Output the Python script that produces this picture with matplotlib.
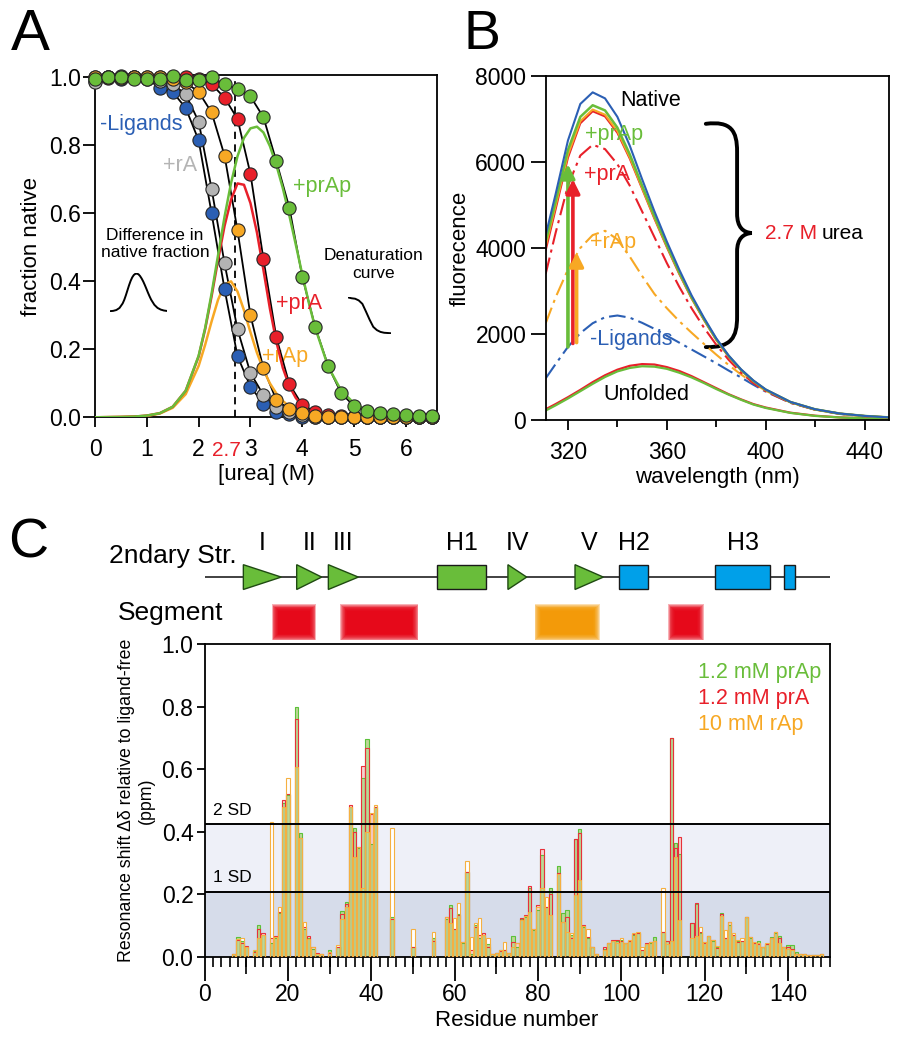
import matplotlib.pyplot as plt
from matplotlib.patches import Polygon, Rectangle, PathPatch
from matplotlib.path import Path
from matplotlib.ticker import MultipleLocator, FuncFormatter

plt.rcParams['font.family'] = ['Liberation Sans', 'DejaVu Sans']
plt.rcParams['font.size'] = 12
plt.rcParams['axes.linewidth'] = 1.3

BLUE = '#2b5fb4'
GRAY = '#b4b4b4'
ORANGE = '#f7a824'
RED = '#e8202a'
GREEN = '#69bd3a'

TICK_FS = 16.5
LAB_FS = 16
CURVE_FS = 15.5

# ---------------- panel A : urea denaturation ----------------
urea = [0.0, 0.25, 0.5, 0.75, 1.0, 1.25, 1.5, 1.75, 2.0, 2.25, 2.5, 2.75, 3.0,
        3.25, 3.5, 3.75, 4.0, 4.25, 4.5, 4.75, 5.0, 5.25, 5.5, 5.75, 6.0, 6.25, 6.5]
fn_none = [0.99, 1.0, 0.995, 1.0, 0.995, 0.97, 0.957, 0.91, 0.815, 0.60, 0.377, 0.18, 0.09,
           0.04, 0.017, 0.01, 0.002, 0, 0, 0, 0, 0, 0, 0, 0, 0, 0]
fn_ra = [0.985, 1.0, 1.005, 1.0, 0.998, 0.99, 0.98, 0.95, 0.87, 0.672, 0.453, 0.259, 0.13,
         0.066, 0.03, 0.015, 0.007, 0.002, 0, 0, 0, 0, 0, 0, 0, 0, 0]
fn_rap = [1.0, 1.0, 0.998, 1.0, 1.0, 1.0, 0.995, 0.985, 0.957, 0.897, 0.77, 0.55, 0.30,
          0.144, 0.051, 0.024, 0.012, 0.005, 0.002, 0, 0, 0, 0, 0, 0, 0, 0]
fn_pra = [1.0, 0.998, 1.0, 1.0, 1.0, 1.0, 0.998, 1.0, 0.995, 0.98, 0.94, 0.878, 0.716,
          0.466, 0.235, 0.098, 0.036, 0.017, 0.008, 0.004, 0.002, 0, 0, 0, 0, 0, 0]
fn_prap = [0.995, 1.0, 1.0, 0.995, 0.995, 0.995, 1.004, 0.992, 0.992, 1.0, 0.98, 0.966, 0.944,
           0.883, 0.753, 0.617, 0.414, 0.265, 0.151, 0.071, 0.033, 0.02, 0.014, 0.01, 0.008,
           0.005, 0.004]

# difference in native fraction (ligand - no ligand)
urea_diff = [0.0, 0.5, 0.75, 1.0, 1.25, 1.5, 1.75, 2.0, 2.125, 2.25, 2.375, 2.5, 2.625, 2.75,
             2.875, 3.0, 3.125, 3.25, 3.375, 3.5, 3.625, 3.75, 3.875, 4.0, 4.125, 4.25, 4.5,
             4.75, 5.0, 5.25, 5.5, 5.75, 6.0, 6.25, 6.5]
diff_prap = [0, 0.001, 0.002, 0.005, 0.012, 0.031, 0.078, 0.181, 0.262, 0.364, 0.477, 0.590,
             0.689, 0.768, 0.822, 0.850, 0.855, 0.838, 0.798, 0.742, 0.674, 0.594, 0.508,
             0.420, 0.338, 0.263, 0.149, 0.079, 0.041, 0.020, 0.010, 0.005, 0.0025, 0.001, 0.0006]
diff_pra = [0, 0.001, 0.002, 0.005, 0.012, 0.031, 0.078, 0.179, 0.259, 0.356, 0.463, 0.563,
            0.640, 0.688, 0.684, 0.630, 0.544, 0.434, 0.320, 0.222, 0.145, 0.092, 0.057,
            0.034, 0.021, 0.012, 0.005, 0.002, 0.001, 0, 0, 0, 0, 0, 0]
diff_rap = [0, 0.001, 0.002, 0.004, 0.011, 0.028, 0.068, 0.151, 0.213, 0.282, 0.346, 0.390,
            0.400, 0.370, 0.315, 0.250, 0.190, 0.140, 0.100, 0.070, 0.048, 0.032, 0.020,
            0.013, 0.008, 0.005, 0.002, 0.001, 0, 0, 0, 0, 0, 0, 0]
urea_mark = 2.7

# ---------------- panel B : fluorescence spectra ----------------
wl = [311, 315, 320, 325, 330, 335, 340, 345, 350, 355, 360, 365, 370, 375, 380, 385,
      390, 395, 400, 410, 420, 430, 440, 450]
nat_blue = [4300, 5250, 6500, 7350, 7620, 7480, 7050, 6380, 5600, 4850, 4150, 3500, 2900,
            2380, 1900, 1500, 1180, 920, 710, 420, 250, 150, 95, 60]
nat_green = [4150, 5080, 6280, 7050, 7320, 7200, 6800, 6180, 5450, 4740, 4070, 3440, 2860,
             2350, 1880, 1490, 1170, 910, 705, 418, 248, 149, 94, 60]
nat_orange = [4050, 4980, 6170, 6950, 7220, 7100, 6720, 6110, 5400, 4700, 4040, 3420, 2840,
              2340, 1870, 1480, 1165, 905, 700, 415, 246, 148, 93, 60]
nat_red = [3950, 4900, 6100, 6900, 7180, 7060, 6680, 6080, 5380, 4680, 4020, 3400, 2830,
           2330, 1865, 1475, 1160, 900, 700, 415, 246, 148, 93, 60]
urea_pra = [3400, 4350, 5450, 6150, 6400, 6300, 5950, 5450, 4850, 4250, 3650, 3100, 2600,
            2150, 1750, 1400, 1100, 860, 670, 400, 240, 145, 90, 60]
urea_rap = [2250, 2850, 3500, 4000, 4300, 4400, 4200, 3800, 3350, 2930, 2600, 2300, 2030,
            1770, 1520, 1280, 1060, 860, 680, 410, 240, 145, 88, 55]
urea_none = [970, 1300, 1700, 2020, 2250, 2390, 2430, 2380, 2260, 2120, 1960, 1800, 1640,
             1480, 1320, 1150, 990, 820, 660, 400, 240, 140, 85, 55]
unf_red = [250, 370, 530, 700, 880, 1040, 1170, 1260, 1300, 1290, 1230, 1140, 1020, 880,
           740, 600, 480, 370, 290, 170, 100, 60, 40, 30]
unf_green = [220, 340, 500, 670, 840, 1000, 1130, 1210, 1250, 1240, 1190, 1100, 990, 860,
             720, 590, 470, 360, 280, 165, 95, 58, 38, 28]
arrow_nm = [320, 322, 323.5]
arrow_lo = [1700, 1780, 1800]
arrow_hi = [5950, 5600, 3900]
arrow_col = [GREEN, RED, ORANGE]

# ---------------- panel C : NMR chemical shift perturbation ----------------
residue = [7, 8, 9, 10, 12, 13, 14, 16, 17, 18, 19, 20, 22, 23, 24, 25, 26, 27, 28, 30,
           32, 33, 34, 35, 36, 37, 38, 39, 40, 41, 45, 50, 55, 58, 59, 60, 61, 62, 63, 64,
           65, 66, 67, 68, 69, 70, 71, 72, 73, 74, 75, 76, 77, 78, 79, 80, 81, 82, 83, 85,
           86, 87, 88, 89, 90, 91, 92, 93, 94, 96, 97, 98, 99, 100, 101, 102, 103, 104, 105,
           106, 107, 108, 110, 111, 112, 113, 114, 117, 118, 119, 120, 121, 122, 123, 124,
           125, 126, 127, 128, 129, 130, 131, 132, 133, 134, 135, 136, 137, 138, 139, 140,
           141, 142, 143, 144, 145, 146, 147, 148]
shift_prap = [.010, .064, .050, .030, .018, .100, .070, .045, .060, .139, .490, .517, .800,
              .397, .090, .060, .025, .010, .008, .023, .030, .145, .176, .478, .410, .347,
              .570, .695, .360, .480, .128, .032, .060, .120, .165, .090, .135, .045, .272,
              .010, .100, .060, .070, .040, .010, .012, .022, .020, .013, .066, .030, .120,
              .128, .220, .085, .150, .325, .160, .219, .290, .140, .149, .070, .375, .407,
              .095, .060, .030, .010, .025, .045, .050, .050, .055, .043, .050, .070, .075,
              .020, .040, .045, .064, .080, .050, .700, .365, .330, .109, .170, .075, .048,
              .066, .050, .030, .139, .060, .100, .070, .050, .050, .128, .060, .045, .050,
              .030, .040, .064, .075, .066, .032, .037, .037, .015, .010, .008, .007, .006,
              .006, .008]
shift_pra = [.008, .055, .045, .034, .015, .090, .075, .060, .066, .144, .500, .520, .760,
             .380, .095, .066, .030, .012, .008, .012, .032, .135, .170, .485, .400, .352,
             .610, .667, .455, .480, .120, .032, .050, .128, .155, .090, .133, .048, .272,
             .020, .095, .070, .077, .030, .010, .012, .018, .022, .013, .048, .045, .123,
             .133, .226, .090, .165, .343, .160, .200, .267, .112, .128, .060, .375, .395,
             .101, .064, .030, .010, .030, .045, .055, .053, .050, .043, .050, .073, .075,
             .020, .045, .046, .050, .080, .050, .700, .347, .384, .107, .173, .080, .045,
             .066, .055, .028, .135, .060, .112, .070, .048, .050, .128, .062, .045, .040,
             .030, .040, .060, .080, .060, .030, .030, .025, .010, .010, .008, .007, .006,
             .006, .008]
shift_rap = [.010, .058, .060, .030, .023, .060, .070, .432, .063, .158, .480, .570, .608,
             .378, .110, .058, .030, .010, .008, .015, .037, .120, .160, .480, .320, .350,
             .220, .400, .459, .485, .410, .090, .080, .126, .107, .123, .173, .048, .306,
             .064, .109, .123, .070, .059, .010, .012, .020, .048, .013, .030, .043, .118,
             .130, .144, .090, .160, .219, .190, .133, .265, .110, .080, .075, .197, .245,
             .098, .090, .032, .010, .022, .045, .050, .045, .059, .043, .053, .075, .080,
             .032, .040, .048, .050, .220, .040, .050, .320, .117, .060, .065, .096, .048,
             .066, .053, .033, .130, .085, .110, .075, .053, .060, .128, .064, .048, .043,
             .032, .043, .060, .080, .045, .032, .025, .020, .010, .010, .008, .007, .006,
             .006, .008]
sd1, sd2 = 0.207, 0.424

strand_names = ['I', 'II', 'III', 'IV', 'V']
strand_start = [9.3, 22.1, 29.7, 72.8, 88.9]
strand_end = [18.4, 28.1, 36.9, 77.3, 95.7]
helix_names = ['H1', 'H2', 'H3', '']
helix_start = [55.7, 99.5, 122.5, 139.0]
helix_end = [67.6, 106.5, 135.8, 141.7]
helix_col = [GREEN, '#00a0e9', '#00a0e9', '#00a0e9']
seg_start = [16.9, 33.4, 80.0, 112.0]
seg_end = [26.0, 50.5, 94.0, 119.0]
seg_col = ['#e60012', '#e60012', '#f39800', '#e60012']

# ---------------- figure ----------------
W, H = 902, 1050
fig = plt.figure(figsize=(W / 100, H / 100), dpi=100)


def px_axes(l, t, r, b):
    return fig.add_axes([l / W, 1 - b / H, (r - l) / W, (b - t) / H])


axA = px_axes(95, 75, 437, 417.3)
axB = px_axes(545.7, 76, 889.3, 420)
axC = px_axes(204.6, 644, 829.6, 956.7)
axS = px_axes(204.6, 530, 829.6, 644)

# ---- A ----
for fr in [fn_none, fn_ra, fn_rap, fn_pra, fn_prap]:
    axA.plot(urea, fr, color='black', lw=1.3, zorder=2)
axA.plot(urea_diff, diff_rap, color=ORANGE, lw=1.8, zorder=3)
axA.plot(urea_diff, diff_pra, color=RED, lw=1.8, zorder=3)
axA.plot(urea_diff, diff_prap, color=GREEN, lw=1.8, zorder=3)
axA.vlines(urea_mark, 0, 1.0, colors='black', linestyles=(0, (4, 3)), lw=1.3, zorder=2)
for fr, c in [(fn_none, BLUE), (fn_ra, GRAY), (fn_pra, RED), (fn_rap, ORANGE), (fn_prap, GREEN)]:
    axA.plot(urea, fr, 'o', ms=9.5, mfc=c, mec='#262626', mew=0.8, clip_on=False, zorder=5)
axA.set_xlim(0, 6.6)
axA.set_ylim(0, 1.007)
axA.set_xticks(range(0, 7))
axA.set_yticks([0, 0.2, 0.4, 0.6, 0.8, 1.0])
axA.yaxis.set_major_formatter(FuncFormatter(lambda v, p: f'{v:.1f}'))
axA.tick_params(axis='x', direction='out', length=7, width=1.3, labelsize=TICK_FS, pad=8)
axA.tick_params(axis='y', direction='out', length=8.5, width=1.3, labelsize=TICK_FS, pad=1.5)
axA.set_xlabel('[urea] (M)', fontsize=LAB_FS, labelpad=2)
axA.set_ylabel('fraction native', fontsize=LAB_FS, labelpad=5)
axA.text(2.54, -0.097, '2.7', color=RED, fontsize=15, ha='center', va='center',
         transform=axA.get_xaxis_transform())
axA.text(0.9, 0.86, '-Ligands', color=BLUE, fontsize=CURVE_FS, ha='center', va='center')
axA.text(1.64, 0.742, '+rA', color=GRAY, fontsize=CURVE_FS, ha='center', va='center')
axA.text(4.38, 0.678, '+prAp', color=GREEN, fontsize=CURVE_FS, ha='center', va='center')
axA.text(3.94, 0.336, '+prA', color=RED, fontsize=CURVE_FS, ha='center', va='center')
axA.text(3.67, 0.178, '+rAp', color=ORANGE, fontsize=CURVE_FS, ha='center', va='center',
         zorder=1)
axA.text(1.16, 0.51, 'Difference in\nnative fraction', fontsize=12.5, ha='center',
         va='center', linespacing=1.2)
axA.text(5.37, 0.45, 'Denaturation\ncurve', fontsize=12.5, ha='center', va='center',
         linespacing=1.2)
ins1 = axA.inset_axes([0.29, 0.31, 1.1, 0.115], transform=axA.transData)
ins1.plot(urea_diff[3:31], diff_prap[3:31], color='black', lw=1.4)
ins1.margins(0, 0.02)
ins1.axis('off')
ins2 = axA.inset_axes([4.88, 0.245, 0.84, 0.11], transform=axA.transData)
ins2.plot(urea[4:17], fn_none[4:17], color='black', lw=1.4)
ins2.margins(0, 0.02)
ins2.axis('off')

# ---- B ----
axB.plot(wl, unf_red, color=RED, lw=1.6)
axB.plot(wl, unf_green, color=GREEN, lw=1.6)
dd = (8, 2.5, 1.5, 2.5)
axB.plot(wl, urea_none, color=BLUE, lw=1.5, dashes=dd)
axB.plot(wl, urea_rap, color=ORANGE, lw=1.5, dashes=dd)
axB.plot(wl, urea_pra, color=RED, lw=1.5, dashes=dd)
axB.plot(wl, nat_red, color=RED, lw=1.5)
axB.plot(wl, nat_orange, color=ORANGE, lw=1.5)
axB.plot(wl, nat_green, color=GREEN, lw=1.8)
axB.plot(wl, nat_blue, color=BLUE, lw=1.5)
for x, lo, hi, c in zip(arrow_nm, arrow_lo, arrow_hi, arrow_col):
    axB.annotate('', xy=(x, hi), xytext=(x, lo),
                 arrowprops=dict(arrowstyle='-|>,head_length=0.7,head_width=0.35',
                                 color=c, lw=2.6, shrinkA=0, shrinkB=0))
axB.set_xlim(311, 450)
axB.set_ylim(0, 8000)
axB.set_xticks([320, 360, 400, 440])
axB.xaxis.set_minor_locator(MultipleLocator(40, offset=20))
axB.set_yticks([0, 2000, 4000, 6000, 8000])
axB.tick_params(axis='x', direction='out', length=7, width=1.3, labelsize=TICK_FS, pad=8)
axB.tick_params(axis='y', direction='out', length=11, width=1.3, labelsize=TICK_FS, pad=3)
axB.tick_params(which='minor', direction='out', length=5, width=1.3)
axB.set_xlabel('wavelength (nm)', fontsize=LAB_FS, labelpad=2)
axB.set_ylabel('fluorecence', fontsize=LAB_FS, labelpad=3)
axB.text(353.4, 7420, 'Native', fontsize=CURVE_FS, ha='center', va='center')
axB.text(338.8, 6640, '+prAp', color=GREEN, fontsize=CURVE_FS, ha='center', va='center')
axB.text(335.8, 5710, '+prA', color=RED, fontsize=CURVE_FS, ha='center', va='center')
axB.text(338.4, 4120, '+rAp', color=ORANGE, fontsize=CURVE_FS, ha='center', va='center')
axB.text(345.8, 1865, '-Ligands', color=BLUE, fontsize=CURVE_FS, ha='center', va='center')
axB.text(351.6, 583, 'Unfolded', fontsize=CURVE_FS, ha='center', va='center')
brace = Path([(0.466, 0.861), (0.54, 0.87), (0.557, 0.84), (0.557, 0.78),
              (0.557, 0.60),
              (0.557, 0.56), (0.575, 0.545), (0.60, 0.5436),
              (0.575, 0.542), (0.557, 0.527), (0.557, 0.49),
              (0.557, 0.30),
              (0.557, 0.24), (0.54, 0.21), (0.466, 0.212)],
             [Path.MOVETO, Path.CURVE4, Path.CURVE4, Path.CURVE4, Path.LINETO,
              Path.CURVE4, Path.CURVE4, Path.CURVE4, Path.CURVE4, Path.CURVE4, Path.CURVE4,
              Path.LINETO, Path.CURVE4, Path.CURVE4, Path.CURVE4])
axB.add_patch(PathPatch(brace, transform=axB.transAxes, fc='none', ec='black', lw=2.8,
                        capstyle='round'))
axB.text(0.638, 0.5436, '2.7 M', color=RED, fontsize=15, ha='left', va='center',
         transform=axB.transAxes)
axB.text(0.804, 0.5436, 'urea', fontsize=15, ha='left', va='center', transform=axB.transAxes)

# ---- C ----
axC.axhspan(0, sd1, color='#d6dcea', zorder=0, lw=0)
axC.axhspan(sd1, sd2, color='#eef0f8', zorder=0, lw=0)
bw = 0.78
axC.bar(residue, shift_rap, width=bw, color='white', lw=0, zorder=2)
axC.bar(residue, shift_pra, width=bw, color='#f4d2cf', lw=0, zorder=2)
axC.bar(residue, shift_prap, width=bw, color='#bcd795', lw=0, zorder=2)
axC.bar(residue, shift_prap, width=bw, fill=False, edgecolor='#5cc13a', lw=0.8, zorder=3)
axC.bar(residue, shift_pra, width=bw, fill=False, edgecolor='#e8303a', lw=0.8, zorder=3)
axC.bar(residue, shift_rap, width=bw, fill=False, edgecolor='#f5b041', lw=0.8, zorder=3)
axC.axhline(sd1, color='black', lw=1.4, zorder=4)
axC.axhline(sd2, color='black', lw=1.4, zorder=4)
axC.text(2, sd2 + 0.045, '2 SD', fontsize=12.5, va='center', ha='left')
axC.text(2, sd1 + 0.045, '1 SD', fontsize=12.5, va='center', ha='left')
axC.set_xlim(0, 150)
axC.set_ylim(0, 1.0)
axC.xaxis.set_major_locator(MultipleLocator(20))
axC.xaxis.set_minor_locator(MultipleLocator(2))
axC.set_yticks([0, 0.2, 0.4, 0.6, 0.8, 1.0])
axC.yaxis.set_major_formatter(FuncFormatter(lambda v, p: f'{v:.1f}'))
axC.tick_params(axis='x', direction='out', length=17, width=1.3, labelsize=TICK_FS, pad=2)
axC.tick_params(axis='y', direction='out', length=6, width=1.3, labelsize=TICK_FS, pad=2)
axC.tick_params(which='minor', direction='out', length=7, width=1.2)
sec = axC.secondary_xaxis('bottom')
sec.set_xticks(range(10, 150, 20))
sec.tick_params(direction='out', length=12, width=1.2, labelbottom=False)
sec.spines['bottom'].set_visible(False)
axC.set_xlabel('Residue number', fontsize=LAB_FS, labelpad=3)
axC.set_ylabel('Resonance shift Δδ relative to ligand-free\n(ppm)', fontsize=12.8,
               labelpad=5, multialignment='center')
for i, (lab, c) in enumerate([('1.2 mM prAp', GREEN), ('1.2 mM prA', RED),
                              ('10 mM rAp', ORANGE)]):
    axC.text(0.79, 0.908 - 0.083 * i, lab, color=c, fontsize=15.5, va='center',
             transform=axC.transAxes)

# ---- secondary structure / segments ----
axS.set_xlim(0, 150)
axS.set_ylim(645, 530)
axS.axis('off')
axS.axhline(577.5, color='#333333', lw=1.3, zorder=1)
for name, s, e in zip(strand_names, strand_start, strand_end):
    axS.add_patch(Polygon([(s, 565), (s, 590), (e, 577.5)], closed=True, fc=GREEN,
                          ec='#1f4a12', lw=1.0, zorder=2))
    axS.text((s + e) / 2, 543, name, fontsize=18, ha='center', va='center')
for name, s, e, c in zip(helix_names, helix_start, helix_end, helix_col):
    axS.add_patch(Rectangle((s, 565), e - s, 25, fc=c, ec='#1a1a1a', lw=1.0, zorder=2))
    axS.text((s + e) / 2, 543, name, fontsize=18, ha='center', va='center')
# soft-edged segment blocks: stack of translucent rectangles shrinking inward
for s, e, c in zip(seg_start, seg_end, seg_col):
    for k in range(9):
        t = 1 - k / 4
        dx, dy = 0.8 * t, 3.3 * t
        axS.add_patch(Rectangle((s - dx, 608 - dy), (e - s) + 2 * dx, 30 + 2 * dy,
                                fc=c, ec='none', alpha=0.3, zorder=1))
axS.text(7.8, 556, '2ndary Str.', fontsize=19, ha='right', va='center')
axS.text(4.4, 614, 'Segment', fontsize=19, ha='right', va='center')

# ---- panel letters ----
fig.text(30 / W, 1 - 35 / H, 'A', fontsize=42, ha='center', va='center')
fig.text(482 / W, 1 - 35 / H, 'B', fontsize=40, ha='center', va='center')
fig.text(28 / W, 1 - 543 / H, 'C', fontsize=40, ha='center', va='center')

fig.savefig('out.png', dpi=100)
